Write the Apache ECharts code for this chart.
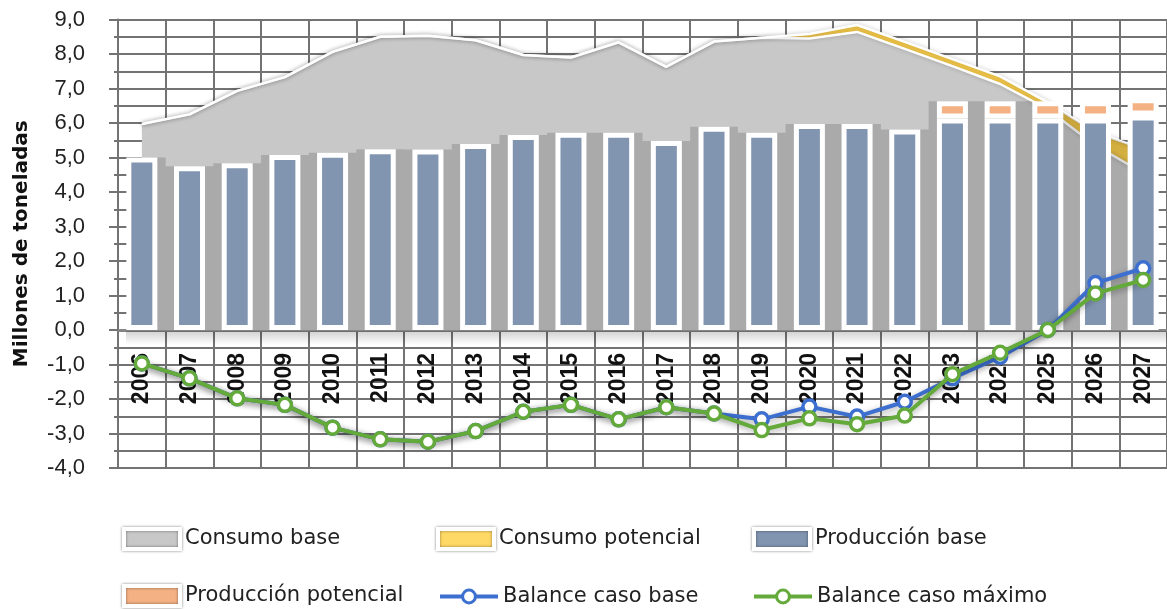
<!DOCTYPE html>
<html>
<head>
<meta charset="utf-8">
<script src="https://cdn.jsdelivr.net/npm/echarts@6/dist/echarts.min.js"></script>
<style>
html,body{margin:0;padding:0;background:#fff;}
#chart{width:1167px;height:609px;}
</style>
</head>
<body>
<div id="chart"></div>
<script>
const years = ['2006','2007','2008','2009','2010','2011','2012','2013','2014','2015','2016','2017','2018','2019','2020','2021','2022','2023','2024','2025','2026','2027'];
const consumoBase = [5.97, 6.25, 6.93, 7.33, 8.06, 8.5, 8.53, 8.4, 7.97, 7.9, 8.34, 7.63, 8.36, 8.47, 8.45, 8.64, 8.15, 7.65, 7.13, 6.4, 5.35, 4.55];
const consumoPotencial = [0, 0, 0, 0, 0, 0, 0, 0, 0, 0, 0, 0, 0, 0, 0.13, 0.2, 0.2, 0.2, 0.22, 0.2, 0.38, 0.7];
const produccionBase = [5.0, 4.75, 4.83, 5.07, 5.14, 5.24, 5.23, 5.39, 5.65, 5.72, 5.72, 5.48, 5.89, 5.72, 5.97, 5.97, 5.81, 6.13, 6.13, 6.13, 6.13, 6.22];
const produccionPotencial = [null, null, null, null, null, null, null, null, null, null, null, null, null, null, null, null, null, 0.5, 0.5, 0.5, 0.5, 0.5];
const balanceBase = [-0.97, -1.4, -1.98, -2.17, -2.83, -3.17, -3.24, -2.93, -2.37, -2.17, -2.59, -2.24, -2.42, -2.59, -2.22, -2.51, -2.08, -1.4, -0.78, 0.0, 1.36, 1.79];
const balanceMax = [-0.97, -1.4, -1.98, -2.17, -2.83, -3.17, -3.24, -2.93, -2.37, -2.17, -2.59, -2.24, -2.42, -2.9, -2.56, -2.73, -2.48, -1.28, -0.66, 0.0, 1.06, 1.45];
const yMin = -4, yMax = 9, yStep = 1;
const seriesNames = ['Consumo base', 'Consumo potencial', 'Producción base', 'Producción potencial', 'Balance caso base', 'Balance caso máximo'];

// stacked totals, used for the bars' dark shadow band behind them (clipped to the consumption area)
const produccionTotal = produccionBase.map((v, i) => v + (produccionPotencial[i] || 0));
const consumoTotal = consumoBase.map((v, i) => v + consumoPotencial[i]);

const C = {
  gray: '#c8c8c8', yellow: '#f8cd4c', blue: '#8195b1', orange: '#f4b183',
  lineBlue: '#3c6fcf', lineGreen: '#64aa3a', grid: '#737373', shade: 'rgba(0,0,0,0.15)'
};
const legendText = {fontFamily: 'DejaVu Sans', fontSize: 21, color: '#222'};

function legRect(name, color, left, top) {
  return {
    data: [{name: name, icon: 'rect', itemStyle: {color: color, borderColor: '#fff', borderWidth: 4, shadowColor: 'rgba(0,0,0,0.45)', shadowBlur: 3}}],
    left: left, top: top, itemWidth: 56, itemHeight: 20, selectedMode: false, padding: 0,
    textStyle: legendText
  };
}
function legLine(name, color, left, top) {
  return {
    data: [{name: name, lineStyle: {color: color, width: 4}, itemStyle: {color: '#fff', borderColor: color, borderWidth: 3}}],
    left: left, top: top, itemWidth: 58, itemHeight: 16, selectedMode: false, padding: 0,
    textStyle: legendText
  };
}

function consumoAt(fi) {
  const n = consumoTotal.length;
  if (fi < 0 || fi > n - 1) return 0;
  let j = Math.floor(fi);
  if (j >= n - 1) j = n - 2;
  const t = fi - j;
  return consumoTotal[j] + (consumoTotal[j + 1] - consumoTotal[j]) * t;
}

function renderShade(params, api) {
  const i = api.value(0), v = api.value(1);
  const c = api.coord([i, 0]);
  const w = api.size([1, 0])[0];
  const x0 = i === 0 ? c[0] : c[0] - w / 2;
  const x1 = c[0] + w / 2;
  const steps = 24;
  const pts = [];
  for (let k = 0; k <= steps; k++) {
    const x = x0 + (x1 - x0) * k / steps;
    const fi = i + (x - c[0]) / w;
    const yv = Math.max(0, Math.min(v, consumoAt(fi)));
    pts.push([x, api.coord([i, yv])[1]]);
  }
  pts.push([x1, c[1]]);
  pts.push([x0, c[1]]);
  return {
    type: 'group',
    children: [
      {type: 'polygon', shape: {points: pts}, style: {fill: C.shade}},
      {type: 'rect', shape: {x: c[0] - w / 2 + 8, y: c[1] + 1, width: w, height: 14},
       style: {fill: new echarts.graphic.LinearGradient(0, 0, 0, 1, [
         {offset: 0, color: 'rgba(0,0,0,0.18)'}, {offset: 1, color: 'rgba(0,0,0,0)'}])}}
    ]
  };
}

const BAR_W = 31, BORDER = 5;
const chart = echarts.init(document.getElementById('chart'), null, {renderer: 'canvas'});
const option = {
  animation: false,
  backgroundColor: '#fff',
  grid: {left: 118, right: -7, top: 19.5, bottom: 141, containLabel: false},
  legend: [
    legRect(seriesNames[0], C.gray, 122, 527),
    legRect(seriesNames[1], '#ffd966', 436, 527),
    legRect(seriesNames[2], C.blue, 752, 527),
    legRect(seriesNames[3], C.orange, 122, 584),
    legLine(seriesNames[4], C.lineBlue, 438, 586),
    legLine(seriesNames[5], C.lineGreen, 752, 586)
  ],
  xAxis: {
    type: 'category', data: years, boundaryGap: true,
    offset: -138,
    axisLine: {onZero: false, lineStyle: {color: '#858585', width: 3}},
    axisTick: {show: false},
    axisLabel: {interval: 0, rotate: 90, margin: 23, fontFamily: 'Liberation Sans', fontWeight: 'bold', fontSize: 23, color: '#111'},
    splitLine: {show: true, interval: 0, lineStyle: {color: C.grid, width: 2}}
  },
  yAxis: {
    type: 'value', min: yMin, max: yMax, interval: yStep,
    name: 'Millones de toneladas', nameLocation: 'middle', nameGap: 86,
    nameTextStyle: {fontFamily: 'DejaVu Sans', fontWeight: 'bold', fontSize: 20, color: '#111'},
    axisLine: {show: true, lineStyle: {color: C.grid, width: 2}},
    axisTick: {show: true, length: 9, lineStyle: {color: C.grid, width: 2}},
    minorTick: {show: true, splitNumber: 2, length: 4, lineStyle: {color: C.grid, width: 2}},
    splitLine: {show: true, lineStyle: {color: C.grid, width: 2}},
    minorSplitLine: {show: true, lineStyle: {color: C.grid, width: 2}},
    axisLabel: {formatter: v => v.toFixed(1).replace('.', ','), fontFamily: 'Liberation Sans', fontSize: 22, color: '#222', margin: 33}
  },
  series: [
    {
      name: seriesNames[0], type: 'line', stack: 'cons', data: consumoBase, showSymbol: false, symbol: 'none',
      lineStyle: {color: '#fff', width: 2.5, shadowColor: 'rgba(0,0,0,0.25)', shadowBlur: 4},
      areaStyle: {color: C.gray, opacity: 1},
      itemStyle: {color: C.gray}, z: 1
    },
    {
      name: seriesNames[1], type: 'line', stack: 'cons', data: consumoPotencial, showSymbol: false, symbol: 'none',
      lineStyle: {color: '#fff', width: 2.5, shadowColor: 'rgba(0,0,0,0.25)', shadowBlur: 4},
      areaStyle: {color: C.yellow, opacity: 1},
      itemStyle: {color: C.yellow}, z: 1
    },
    {
      type: 'custom', data: produccionTotal.map((v, i) => [i, v]), renderItem: renderShade,
      encode: {x: 0, y: 1}, silent: true, clip: true, z: 2
    },
    {
      name: seriesNames[2], type: 'bar', stack: 'prod', data: produccionBase, barWidth: BAR_W,
      itemStyle: {color: C.blue, borderColor: '#fff', borderWidth: BORDER}, z: 3
    },
    {
      name: seriesNames[3], type: 'bar', stack: 'prod', data: produccionPotencial, barWidth: BAR_W,
      itemStyle: {color: C.orange, borderColor: '#fff', borderWidth: BORDER}, z: 3
    },
    {
      name: seriesNames[4], type: 'line', data: balanceBase, symbol: 'circle', symbolSize: 13,
      lineStyle: {color: C.lineBlue, width: 4, shadowColor: 'rgba(0,0,0,0.35)', shadowBlur: 6, shadowOffsetY: 2},
      itemStyle: {color: '#fff', borderColor: C.lineBlue, borderWidth: 3.5}, z: 4
    },
    {
      name: seriesNames[5], type: 'line', data: balanceMax, symbol: 'circle', symbolSize: 13,
      lineStyle: {color: C.lineGreen, width: 4, shadowColor: 'rgba(0,0,0,0.35)', shadowBlur: 6, shadowOffsetY: 2},
      itemStyle: {color: '#fff', borderColor: C.lineGreen, borderWidth: 3.5}, z: 5
    }
  ]
};
chart.setOption(option);
</script>
</body>
</html>
